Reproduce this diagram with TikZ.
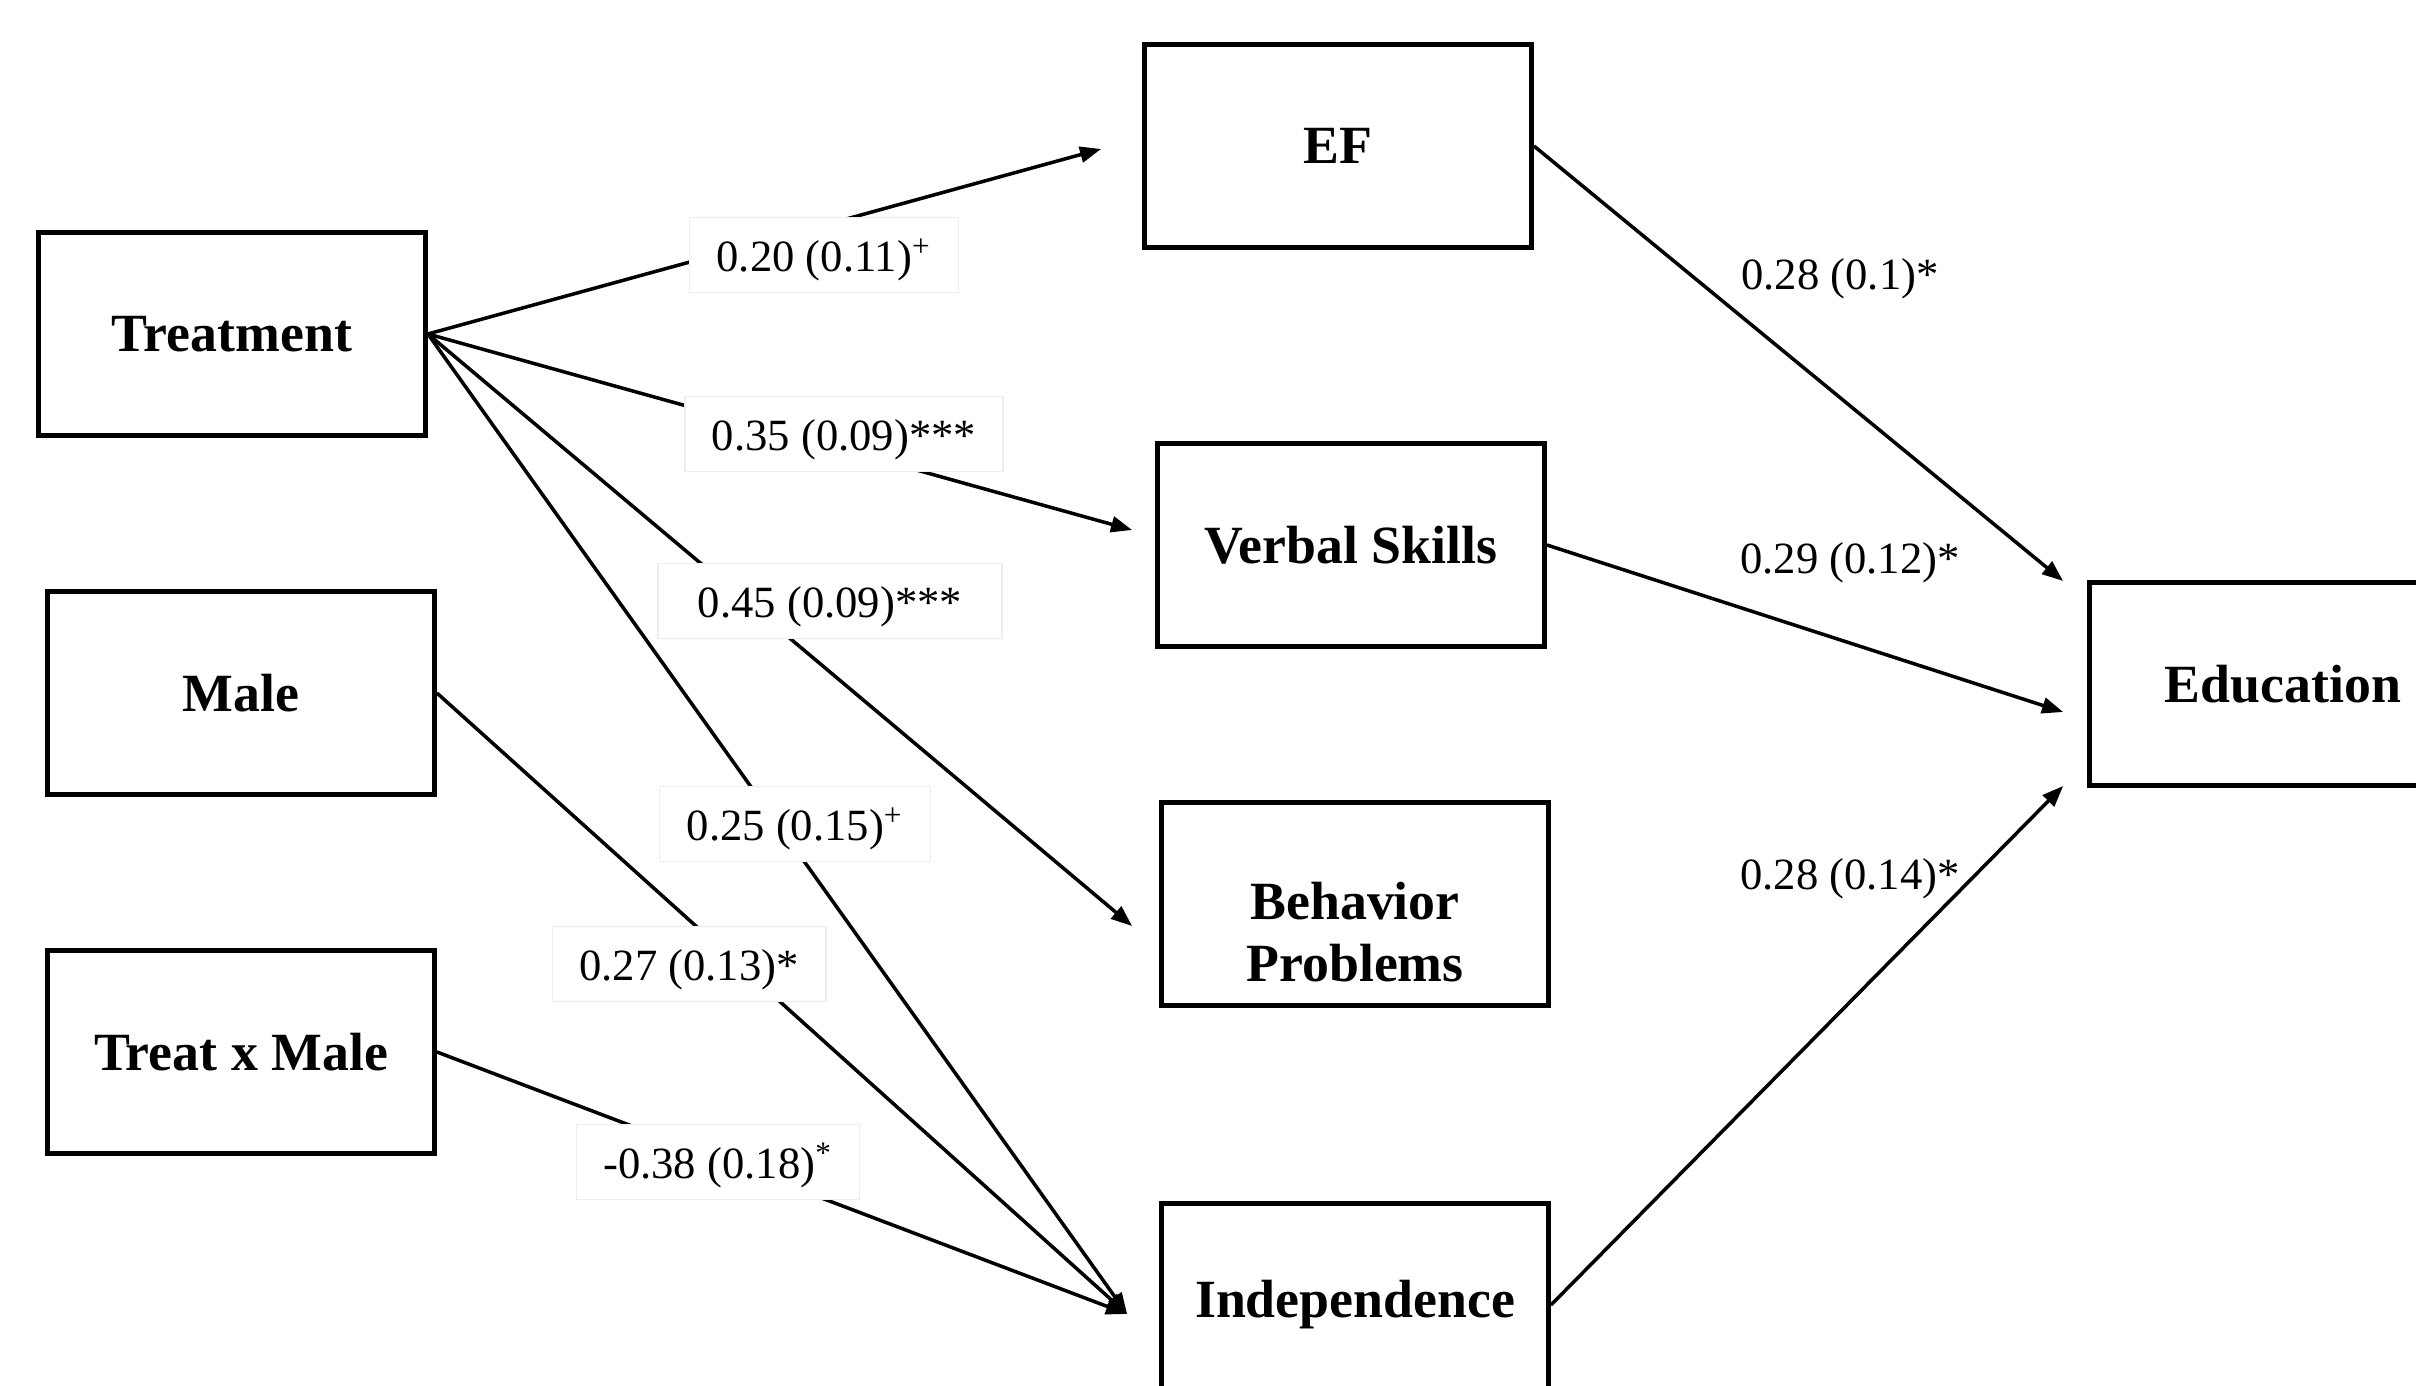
\documentclass[tikz,border=0pt]{standalone}
\usepackage{fontspec}
\setmainfont{Liberation Serif}
\usetikzlibrary{arrows.meta, calc}

\begin{document}
\begin{tikzpicture}[
  x=0.01cm, y=-0.01cm,
  >={Triangle[length=6pt, width=4.5pt]},
  box/.style     = {draw, line width=1.3pt, rectangle, align=center,
                    minimum width=3.87cm, minimum height=2.03cm,
                    font=\fontsize{15.3}{17.5}\selectfont\bfseries},
  boxtxt/.style  = {align=center, font=\fontsize{15.3}{17.5}\selectfont\bfseries},
  link/.style    = {->, line width=1pt},
  coef/.style    = {fill=white, draw=black!7, line width=0.4pt,
                    inner xsep=0.27cm, minimum height=0.73cm,
                    text height=12pt, text depth=2.5pt,
                    font=\fontsize{12.7}{14}\selectfont},
  coeftxt/.style = {font=\fontsize{12.7}{14}\selectfont},
]
  \useasboundingbox (0,0) rectangle (2416,1386);

  % Predictors
  \node[box] (treat) at (232,334)  {Treatment};
  \node[box] (male)  at (241,693)  {Male};
  \node[box] (txm)   at (241,1052) {Treat x Male};

  % Mediators
  \node[box] (ef)     at (1338,146)  {EF};
  \node[box] (verbal) at (1351,545)  {Verbal Skills};
  \node[box] (behav)  at (1355,904)  {};
  \node[boxtxt] (behavtxt) at ($(behav)+(0,28)$) {Behavior\\Problems};
  \node[box] (indep)  at (1355,1305) {Independence};

  % Outcome
  \node[box] (educ) at (2283,684) {Education};

  % Paths into mediators
  \coordinate (indin) at ($(indep.west)+(-32,9)$);
  \draw[link] (treat.east) -- ($(ef.west)+(-41,3)$);
  \draw[link] (treat.east) -- ($(verbal.west)+(-23,-15)$);
  \draw[link] (treat.east) -- ($(behav.west)+(-27,22)$);
  \draw[link] (treat.east) -- (indin);
  \draw[link] (male.east)  -- (indin);
  \draw[link] (txm.east)   -- (indin);

  % Paths into outcome
  \draw[link] (ef.east)     -- ($(educ.west)+(-24,-103)$);
  \draw[link] (verbal.east) -- ($(educ.west)+(-24,28)$);
  \draw[link] (indep.east)  -- ($(educ.west)+(-24,102)$);

  % Coefficients (SE)
  \node[coef] (c1) at (824,255)  {0.20 (0.11)\textsuperscript{+}};
  \node[coef] (c2) at (844,434)  {0.35 (0.09)***};
  \node[coef, minimum width=3.44cm] (c3) at (830,601) {0.45 (0.09)***};
  \node[coef] (c4) at (795,824)  {0.25 (0.15)\textsuperscript{+}};
  \node[coef] (c5) at (689,964)  {0.27 (0.13)*};
  \node[coef] (c6) at (718,1162) {-0.38 (0.18)\textsuperscript{*}};

  \node[coeftxt] (c7) at (1840,279) {0.28 (0.1)*};
  \node[coeftxt] (c8) at (1850,563) {0.29 (0.12)*};
  \node[coeftxt] (c9) at (1850,879) {0.28 (0.14)*};
\end{tikzpicture}
\end{document}
